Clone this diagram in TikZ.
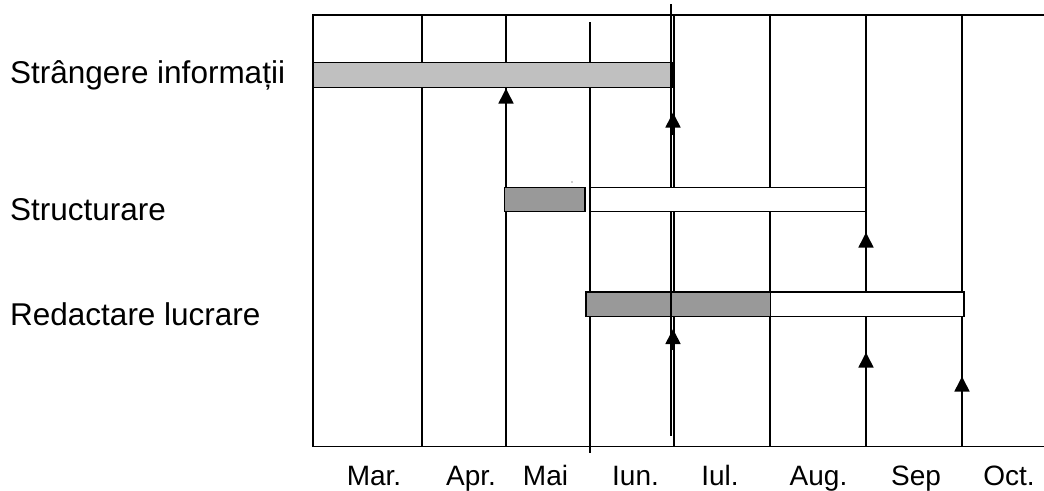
\documentclass[tikz,border=0pt]{standalone}
\usepackage{fontspec}
\setmainfont{Liberation Sans}
\usetikzlibrary{arrows.meta}
\definecolor{barlight}{HTML}{C0C0C0}
\definecolor{bardark}{HTML}{999999}
\tikzset{
  gridline/.style={line width=1.6pt, black},
  bar/.style={line width=1.6pt, draw=black},
  milestone/.style={line width=1.6pt, -{Triangle[width=15pt,length=15pt]}},
  task/.style={anchor=base west, inner sep=0pt, font=\fontsize{31.5}{36}\selectfont},
  month/.style={anchor=base, inner sep=0pt, font=\fontsize{28}{32}\selectfont}
}
\begin{document}
\begin{tikzpicture}[x=1pt,y=-1pt]
\useasboundingbox (0,0) rectangle (1044,490);

% frame (open on the right)
\draw[gridline] (1044,15) -- (313,15) -- (313,446.5) -- (1044,446.5);

% month separators
\foreach \x in {422,506,674,770,866,962}
  \draw[gridline] (\x,15) -- (\x,446.5);
\draw[gridline] (590,22) -- (590,453);

% bars below the current date marker
\filldraw[bar, fill=barlight] (313,62.5) rectangle (672,87.5);
\filldraw[bar, fill=bardark]  (586,292) rectangle (770.5,316.5);
\filldraw[bar, fill=white]    (770.5,292) rectangle (964,316.5);

% current date marker
\draw[gridline] (671,4) -- (671,436);

% structuring bars, drawn over the marker
\filldraw[bar, fill=bardark]  (504.5,187.5) rectangle (585,211.5);
\filldraw[bar, fill=white]    (590.5,187.5) rectangle (866,211.5);
\fill[bardark] (572,182) circle (0.8pt);

% milestones
\coordinate (m1s) at (506,110);   \coordinate (m1t) at (506,88.5);
\coordinate (m2s) at (673,135);   \coordinate (m2t) at (673,112.5);
\coordinate (m3s) at (866,255);   \coordinate (m3t) at (866,232.5);
\coordinate (m4s) at (673,350);   \coordinate (m4t) at (673,329);
\coordinate (m5s) at (866,375);   \coordinate (m5t) at (866,352.5);
\coordinate (m6s) at (962,400);   \coordinate (m6t) at (962,376.5);
\foreach \m in {m1,m2,m3,m4,m5,m6}
  \draw[milestone] (\m s) -- (\m t);

% task names
\node[task] (t1) at (10,83)  {Strângere informații};
\node[task] (t2) at (10,220) {Structurare};
\node[task] (t3) at (10,325) {Redactare lucrare};

% months
\node[month] (mar) at (374,485)   {Mar.};
\node[month] (apr) at (471,485)   {Apr.};
\node[month] (mai) at (545.5,485) {Mai};
\node[month] (iun) at (635.5,485) {Iun.};
\node[month] (iul) at (720,485)   {Iul.};
\node[month] (aug) at (818.5,485) {Aug.};
\node[month] (sep) at (916,485)   {Sep};
\node[month] (oct) at (1009,485)  {Oct.};
\end{tikzpicture}
\end{document}
